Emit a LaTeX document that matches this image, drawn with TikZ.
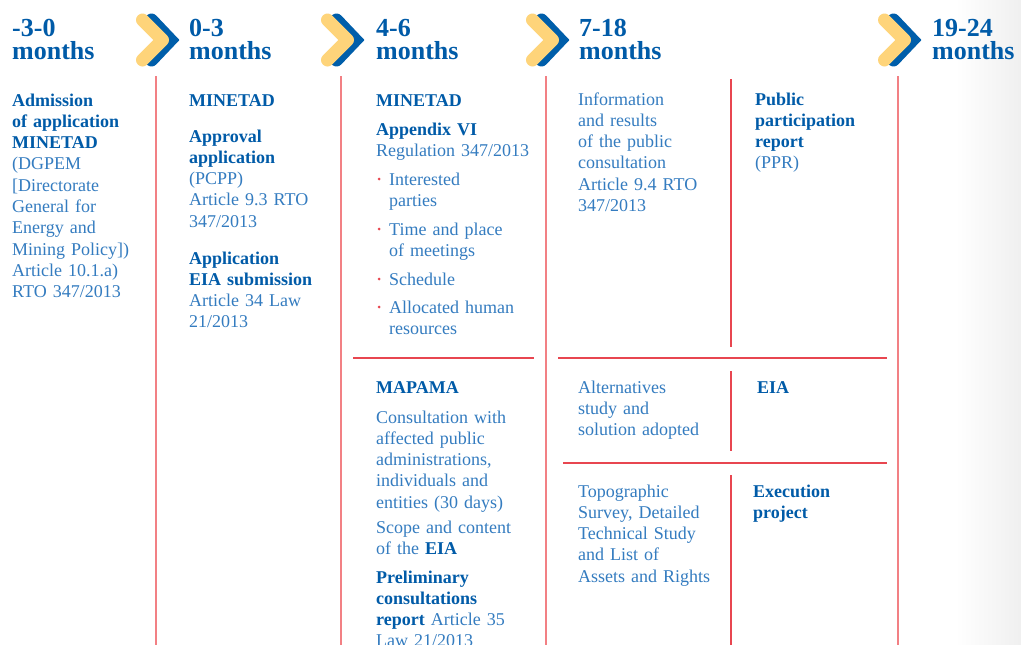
\documentclass[tikz,border=0pt]{standalone}
\usepackage{fontspec}
\setmainfont{Liberation Serif}
\usetikzlibrary{positioning, calc}

\newcommand{\hb}[1]{\textcolor{headcolor}{\textbf{#1}}}

\begin{document}
\begin{tikzpicture}[x=1pt, y=-1pt,
        head/.style={anchor=base west, inner sep=0pt, text width=140pt, align=left, text=headcolor, font=\bfseries\fontsize{26}{24}\selectfont},
        body/.style={anchor=base west, inner sep=0pt, text width=190pt, align=left, text=bodycolor, font=\fontsize{18}{21.3}\selectfont},
        colsep/.style={draw=colcolor, line width=1.4pt},
        rowsep/.style={draw=rowcolor, line width=1.1pt}]
        % Define colors for the timeline
        \definecolor{headcolor}{RGB}{0,91,168}
        \definecolor{bodycolor}{RGB}{52,124,192}
        \definecolor{colcolor}{RGB}{242,128,132}
        \definecolor{rowcolor}{RGB}{232,70,80}
        \definecolor{chevyellow}{RGB}{254,212,122}
        \definecolor{chevblue}{RGB}{0,94,170}

        % Canvas and the grey fade on the right
        \useasboundingbox (0, 0) rectangle (1021, 645);
        \clip (0, 0) rectangle (1021, 645);
        \fill[white] (0, 0) rectangle (1021, 645);
        \shade[left color=white, right color=black!6] (955, 0) rectangle (1021, 645);

        % Draw the chevrons between the periods
        \foreach \cx in {135, 320, 525, 877} {
            \draw[chevblue, line width=13pt, line cap=round, line join=miter] (\cx+16.5, 20) -- (\cx+35.5, 40) -- (\cx+16.5, 60);
            \draw[chevyellow, line width=13pt, line cap=round, line join=round] (\cx+7.5, 20) -- (\cx+27.5, 40) -- (\cx+7.5, 60);
        }

        % Period headings
        \node (p1) at (12, 36) [head] {-3-0\\months};
        \node (p2) at (189, 36) [head] {0-3\\months};
        \node (p3) at (376, 36) [head] {4-6\\months};
        \node (p4) at (579, 36) [head] {7-18\\months};
        \node (p5) at (932, 36) [head] {19-24\\months};

        % Column and row separators
        \foreach \lx in {156, 341, 546, 898}
            \draw[colsep] (\lx, 76) -- (\lx, 645);
        \draw[rowsep] (353, 358) -- (534, 358);
        \draw[rowsep] (558, 358) -- (887, 358);
        \draw[rowsep] (563, 463) -- (887, 463);
        \draw[rowsep] (731, 79) -- (731, 347);
        \draw[rowsep] (731, 371) -- (731, 451);
        \draw[rowsep] (731, 475) -- (731, 645);

        % -3-0 months
        \node (admission) at (12, 106) [body] {\hb{Admission}\\ \hb{of application}\\ \hb{MINETAD}\\ (DGPEM\\ {[}Directorate\\ General for\\ Energy and\\ Mining Policy])\\ Article 10.1.a)\\ RTO 347/2013};

        % 0-3 months
        \node (minetadA) at (189, 106) [body] {\hb{MINETAD}};
        \node (approval) at (189, 142) [body] {\hb{Approval}\\ \hb{application}\\ (PCPP)\\ Article 9.3 RTO\\ 347/2013};
        \node (submission) at (189, 264) [body] {\hb{Application}\\ \hb{EIA submission}\\ Article 34 Law\\ 21/2013};

        % 4-6 months, upper half
        \node (minetadB) at (376, 106) [body] {\hb{MINETAD}};
        \node (appendix) at (376, 135) [body] {\hb{Appendix VI}\\ Regulation 347/2013};
        \node (parties) at (389, 185) [body] {Interested\\ parties};
        \node (meetings) at (389, 235) [body] {Time and place\\ of meetings};
        \node (schedule) at (389, 285) [body] {Schedule};
        \node (resources) at (389, 313) [body] {Allocated human\\ resources};
        \foreach \by in {185, 235, 285, 313}
            \fill[rowcolor] (379, \by-6) circle (1.5);

        % 4-6 months, lower half
        \node (mapama) at (376, 393) [body] {\hb{MAPAMA}};
        \node (consult) at (376, 423) [body] {Consultation with\\ affected public\\ administrations,\\ individuals and\\ entities (30 days)};
        \node (scope) at (376, 533) [body] {Scope and content\\ of the \hb{EIA}};
        \node (prelim) at (376, 583) [body] {\hb{Preliminary}\\ \hb{consultations}\\ \hb{report} Article 35\\ Law 21/2013};

        % 7-18 months
        \node (info) at (578, 105) [body] {Information\\ and results\\ of the public\\ consultation\\ Article 9.4 RTO\\ 347/2013};
        \node (ppr) at (755, 105) [body] {\hb{Public}\\ \hb{participation}\\ \hb{report}\\ (PPR)};
        \node (alternatives) at (578, 393) [body] {Alternatives\\ study and\\ solution adopted};
        \node (eia) at (757, 393) [body] {\hb{EIA}};
        \node (survey) at (578, 497) [body] {Topographic\\ Survey, Detailed\\ Technical Study\\ and List of\\ Assets and Rights};
        \node (execution) at (753, 497) [body] {\hb{Execution}\\ \hb{project}};

    \end{tikzpicture}
\end{document}
